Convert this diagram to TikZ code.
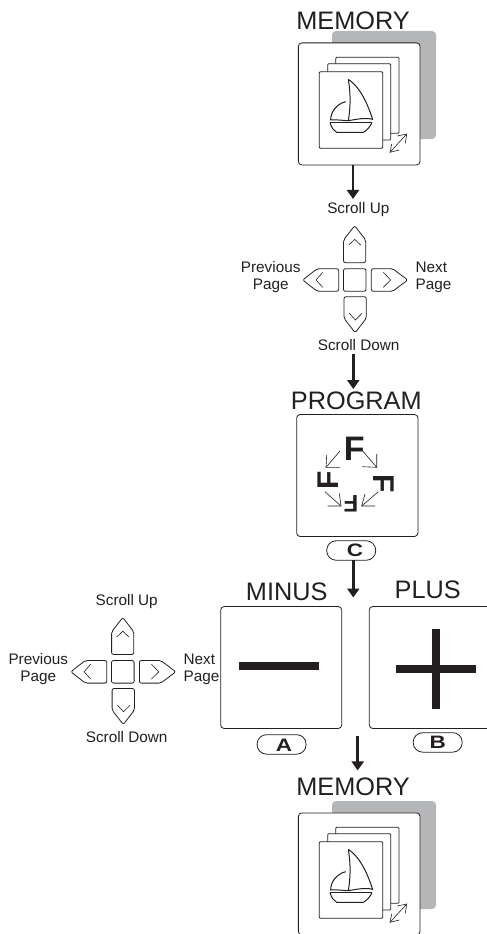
\documentclass[tikz,border=0pt]{standalone}
\usepackage{fontspec}
\setmainfont{Liberation Sans}
\usetikzlibrary{arrows.meta}
\definecolor{ink}{HTML}{231F20}
\definecolor{panelgray}{HTML}{B5B6B8}
\tikzset{
  every node/.style={text=ink,inner sep=0pt,outer sep=0pt},
  panel/.style={draw=ink,line width=0.8pt,rounded corners=3.5pt,minimum width=#1,minimum height=122pt},
  page/.style={draw=ink,fill=white,line width=0.75pt,rounded corners=1pt},
  title/.style={font=\fontsize{25.3}{25}\selectfont},
  caption/.style={font=\fontsize{15.3}{17}\selectfont,align=center},
  captionl/.style={font=\fontsize{15.3}{17}\selectfont,align=left},
  flow/.style={draw=ink,line width=2.6pt,-{Triangle[length=9pt,width=12pt]}},
  thin line/.style={draw=ink,line width=0.6pt},
  keyshape/.style={draw=ink,line width=0.8pt,rounded corners=2pt},
  chev/.style={draw=ink,line width=0.6pt},
  btn/.style={draw=ink,line width=0.8pt,rounded corners=9.5pt,minimum width=49pt,minimum height=19.5pt},
  bigf/.style={font=\bfseries\fontsize{#1}{#1}\selectfont},
  btnletter/.style={font=\bfseries\fontsize{18}{18}\selectfont},
  bar/.style={fill=ink,draw=none}
}
\newcommand{\mempanel}[2]{%
\begin{scope}[yshift=#2]
  \fill[fill=panelgray,rounded corners=4pt] (332,31) rectangle (436,139);
  \node[panel=121.7pt,fill=white] (#1) at (359.2,103.9) {};
  \draw[page] (335.7,57.3) rectangle (399,133.3);
  \draw[page] (327.7,63.7) rectangle (390.7,140);
  \draw[page] (319.3,71.7) rectangle (382.7,148.3);
  \draw[thin line] (390,152.3) -- (406.7,134);
  \draw[thin line] (391.7,144) -- (390,152.3) -- (399.3,150);
  \draw[thin line] (397.3,136) -- (406.7,134) -- (405.3,143.3);
  \begin{scope}[shift={(280,0)},x=0.33333pt,y=-0.33333pt,draw=ink,line width=1pt,line join=round]
    \draw (205,238) .. controls (245,265) and (265,320) .. (278,358) .. controls (255,352) and (230,358) .. (205,362) .. controls (212,320) and (212,280) .. (205,238);
    \draw (197,305) .. controls (170,312) and (152,335) .. (152,360) .. controls (170,358) and (190,362) .. (205,362);
    \draw[line width=1.2pt] (150,368) -- (276,368);
    \draw (150,368) .. controls (155,385) and (162,392) .. (170,397) -- (250,397) .. controls (262,390) and (270,380) .. (276,368);
  \end{scope}
\end{scope}}
\newcommand{\dpad}[2]{%
\begin{scope}[shift={(#1)}]
  \node[keyshape,minimum width=22.6pt,minimum height=22.6pt] (#2c) at (0,0) {};
  \draw[keyshape] (-11.2,-17.3) -- (-11.2,-40) -- (0,-54.3) -- (11,-40) -- (11,-17.3) -- cycle;
  \draw[chev] (-6,-35) -- (0,-40.6) -- (6,-35);
  \draw[keyshape] (-16,-11.3) -- (-37.5,-11.3) -- (-52,0) -- (-37.5,11.3) -- (-16,11.3) -- cycle;
  \draw[chev] (-32,-7.7) -- (-38.7,0) -- (-32,7.3);
  \draw[keyshape] (16.6,-11.3) -- (38,-11.3) -- (53,0) -- (38,11.3) -- (16.6,11.3) -- cycle;
  \draw[chev] (28.6,-7.7) -- (36,0) -- (28.6,7.3);
  \draw[keyshape] (-10.7,16.7) -- (11.6,16.7) -- (11.6,38.3) -- (0.5,52.7) -- (-10.7,38.3) -- cycle;
  \draw[chev] (-5.4,33.3) -- (0.7,40) -- (7.3,33.3);
\end{scope}}
\begin{document}
\begin{tikzpicture}[x=1pt,y=-1pt]
\useasboundingbox (0,0) rectangle (487,934);
\clip (0,0) rectangle (487,934);
% top memory
\node[title] (memtitle) at (353,21) {MEMORY};
\mempanel{memone}{0pt}
% first keypad
\node[caption] (suone) at (358.3,210) {Scroll Up};
\node[caption] (pvone) at (270.7,277.5) {Previous\\Page};
\node[captionl] (nxone) at (433.5,277.5) {Next\\Page};
\node[caption] (sdone) at (358.7,345) {Scroll Down};
\dpad{354.7,280}{a}
% program
\node[title] (progtitle) at (356.3,401) {PROGRAM};
\node[panel=121.3pt] (prog) at (357.3,475.5) {};
\node[bigf=34] (fa) at (354.3,448.3) {F};
\node[bigf=30,rotate=-90] (fb) at (384,483.3) {F};
\node[bigf=24,rotate=180] (fc) at (351,504) {F};
\node[bigf=30,rotate=90] (fd) at (328.3,480) {F};
\draw[thin line] (340,451) -- (326,467.3);
\draw[thin line] (326.7,455) -- (326,467.3) -- (340,467.3);
\draw[thin line] (362.7,451) -- (376.7,467.3);
\draw[thin line] (376.7,454) -- (376.7,467.3) -- (362.3,466.7);
\draw[thin line] (378.3,491.7) -- (361.7,506);
\draw[thin line] (365,494) -- (361.7,506) -- (375,506);
\draw[thin line] (325,491.7) -- (341,506);
\draw[thin line] (339.3,493.3) -- (341,506) -- (327.7,506);
\node[btn] (cbtn) at (351.2,550.5) {};
\node[btnletter] (cl) at (355,550) {\scalebox{1.25}[1]{C}};
% second keypad
\node[caption] (sutwo) at (126.7,601.7) {Scroll Up};
\node[caption] (pvtwo) at (38.3,669.5) {Previous\\Page};
\node[captionl] (nxtwo) at (201.5,669.5) {Next\\Page};
\node[caption] (sdtwo) at (126.7,736.7) {Scroll Down};
\dpad{122.8,671.8}{b}
% minus / plus
\node[title] (mintitle) at (286.7,592) {MINUS};
\node[panel=121pt] (minus) at (281.2,667.5) {};
\fill[bar] (239.3,662.3) rectangle (319,670);
\node[btn] (abtn) at (281.6,744.4) {};
\node[btnletter] (al) at (284,745) {\scalebox{1.25}[1]{A}};
\node[title] (plustitle) at (427.7,589.7) {PLUS};
\node[panel=121pt] (plus) at (429.8,667.5) {};
\fill[bar] (396,665) rectangle (475.7,672.7);
\fill[bar] (432,629) rectangle (439.7,708.7);
\node[btn] (bbtn) at (437.7,742.4) {};
\node[btnletter] (bl) at (437.7,742.3) {\scalebox{1.25}[1]{B}};
% bottom memory
\node[title] (memtitleb) at (353,787) {MEMORY};
\mempanel{memtwo}{-770pt}
% flow arrows
\draw[flow] ([xshift=-6.2pt]memone.south) -- ([xshift=-5.3pt,yshift=3.9pt]suone.north);
\draw[flow] ([xshift=-5.4pt,yshift=-2.9pt]sdone.south) -- ([xshift=-3pt,yshift=3pt]progtitle.north);
\coordinate (minusentry) at (353.3,597.5);
\draw[flow] ([xshift=2.1pt]cbtn.south) -- (minusentry);
\coordinate (plusexit) at (357.7,735.7);
\draw[flow] (plusexit) -- ([xshift=4.7pt,yshift=7.6pt]memtitleb.north);
\end{tikzpicture}
\end{document}
